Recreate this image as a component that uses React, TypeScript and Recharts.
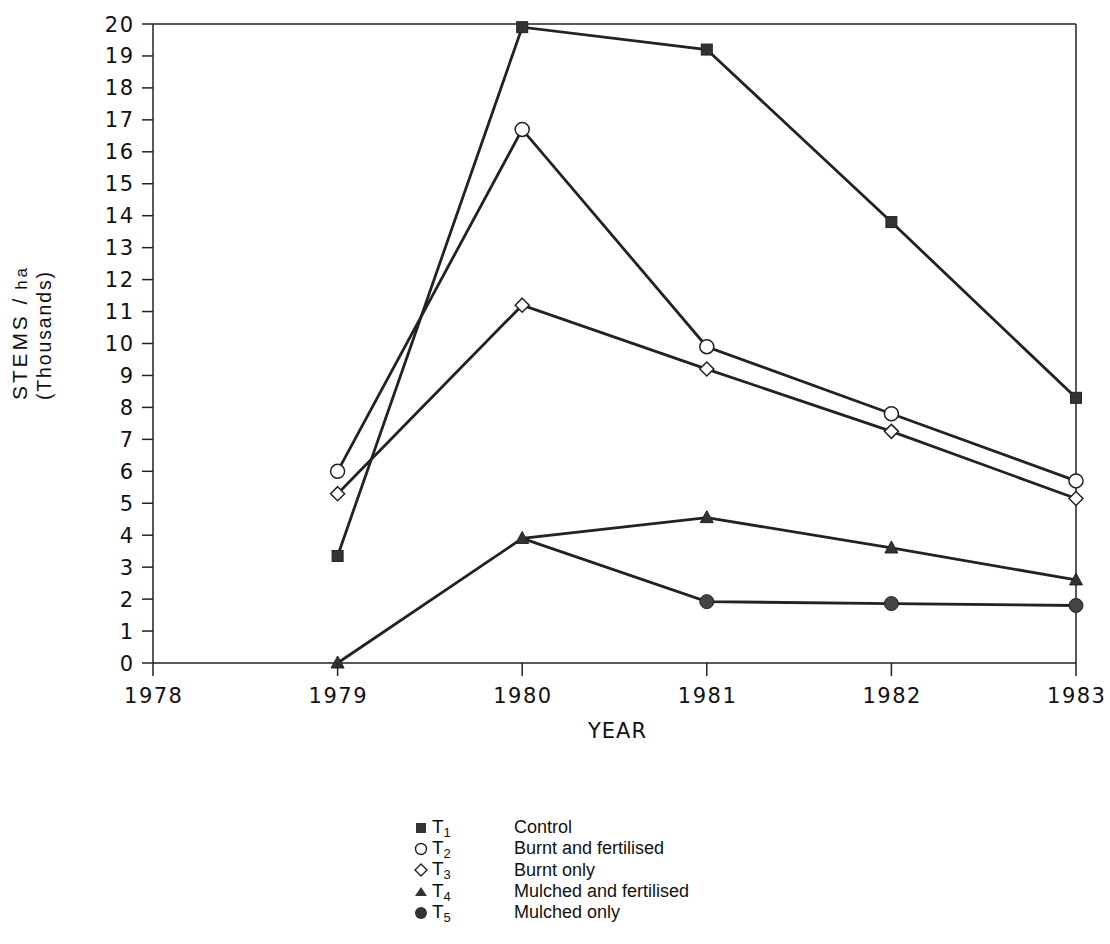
import React from "react";
import { LineChart, Line, XAxis, YAxis, ReferenceLine, Label } from "recharts";

const years = [1979, 1980, 1981, 1982, 1983];
const t1Control = [3.35, 19.9, 19.2, 13.8, 8.3];
const t2BurntFertilised = [6.0, 16.7, 9.9, 7.8, 5.7];
const t3BurntOnly = [5.3, 11.2, 9.2, 7.25, 5.15];
const t4MulchedFertilised = [0, 3.9, 4.55, 3.6, 2.6];
const t5MulchedOnly = [null, 3.9, 1.92, 1.86, 1.8];
const xTicks = [1978, 1979, 1980, 1981, 1982, 1983];
const yTicks = [0, 1, 2, 3, 4, 5, 6, 7, 8, 9, 10, 11, 12, 13, 14, 15, 16, 17, 18, 19, 20];
const legendItems = [
  { key: "T1", sub: "1", label: "Control" },
  { key: "T2", sub: "2", label: "Burnt and fertilised" },
  { key: "T3", sub: "3", label: "Burnt only" },
  { key: "T4", sub: "4", label: "Mulched and fertilised" },
  { key: "T5", sub: "5", label: "Mulched only" },
];

const data = years.map((y, i) => ({
  year: y,
  T1: t1Control[i],
  T2: t2BurntFertilised[i],
  T3: t3BurntOnly[i],
  T4: t4MulchedFertilised[i],
  T5: t5MulchedOnly[i],
}));

const INK = "#222";
const FONT = "'Liberation Sans', Arial, Helvetica, sans-serif";
const WIDE = "'DejaVu Sans', 'Liberation Sans', sans-serif";

const Square = (p: any) =>
  p.cx == null || p.cy == null ? null : (
    <rect x={p.cx - 5.5} y={p.cy - 5.5} width={11} height={11} fill="#333" stroke={INK} strokeWidth={1} />
  );
const OpenCircle = (p: any) =>
  p.cx == null || p.cy == null ? null : (
    <circle cx={p.cx} cy={p.cy} r={7} fill="#fff" stroke={INK} strokeWidth={1.5} />
  );
const Diamond = (p: any) =>
  p.cx == null || p.cy == null ? null : (
    <path d={`M${p.cx},${p.cy - 7}L${p.cx + 7},${p.cy}L${p.cx},${p.cy + 7}L${p.cx - 7},${p.cy}Z`} fill="#fff" stroke={INK} strokeWidth={1.5} />
  );
const Triangle = (p: any) =>
  p.cx == null || p.cy == null ? null : (
    <path d={`M${p.cx},${p.cy - 7}L${p.cx + 6.5},${p.cy + 5}L${p.cx - 6.5},${p.cy + 5}Z`} fill="#333" stroke={INK} strokeWidth={1} />
  );
const FilledCircle = (p: any) =>
  p.cx == null || p.cy == null || p.index < 2 ? null : (
    <circle cx={p.cx} cy={p.cy} r={7} fill="#444" stroke={INK} strokeWidth={1} />
  );

const XTick = (p: any) => {
  const { x, y, payload } = p;
  return (
    <g>
      <line x1={x} y1={y} x2={x} y2={y + 13} stroke={INK} strokeWidth={1.5} />
      <text x={x + 0.75} y={y + 40} textAnchor="middle" fontSize={21} letterSpacing={1.5} fontFamily={WIDE} fill="#111">
        {payload.value}
      </text>
    </g>
  );
};

const YTick = (p: any) => {
  const { x, y, payload } = p;
  return (
    <text x={x + 1.5} y={y} dy={7.5} textAnchor="end" fontSize={21} letterSpacing={1.5} fontFamily={WIDE} fill="#111">
      {payload.value}
    </text>
  );
};

const YTitle = () => (
  <g fontFamily={FONT} fill="#111">
    <text x={0} y={0} transform="translate(27,400) rotate(-90)" textAnchor="start" fontSize={21} textLength={132} lengthAdjust="spacing">
      STEMS /<tspan fontSize={17} dx={6}>ha</tspan>
    </text>
    <text x={0} y={0} transform="translate(51,400) rotate(-90)" textAnchor="start" fontSize={19.5} textLength={128} lengthAdjust="spacing">
      (Thousands)
    </text>
  </g>
);

const LegendSymbol = ({ k }: { k: string }) => {
  const c = 9, cy = 11;
  if (k === "T1") return <rect x={c - 5} y={cy - 5} width={10} height={10} fill="#333" />;
  if (k === "T2") return <circle cx={c} cy={cy} r={5.5} fill="#fff" stroke={INK} strokeWidth={1.4} />;
  if (k === "T3") return <path d={`M${c},${cy - 6}L${c + 6},${cy}L${c},${cy + 6}L${c - 6},${cy}Z`} fill="#fff" stroke={INK} strokeWidth={1.4} />;
  if (k === "T4") return <path d={`M${c},${cy - 5}L${c + 6},${cy + 4}L${c - 6},${cy + 4}Z`} fill="#333" />;
  return <circle cx={c} cy={cy} r={6} fill="#333" />;
};

export default function App() {
  return (
    <div style={{ position: "absolute", left: 0, top: 0, width: 1110, height: 944, background: "#fff" }}>
      <LineChart width={1110} height={944} data={data} margin={{ top: 24, right: 34, bottom: 221, left: 0 }}>
        <XAxis
          dataKey="year"
          type="number"
          domain={[1978, 1983]}
          ticks={xTicks}
          tick={<XTick />}
          tickLine={false}
          tickSize={0}
          tickMargin={0}
          height={60}
          axisLine={{ stroke: INK, strokeWidth: 1.5 }}
        >
          <Label value="YEAR" position="bottom" offset={0} dx={3} fontSize={21} letterSpacing={1} fontFamily={WIDE} fill="#111" />
        </XAxis>
        <YAxis
          type="number"
          domain={[0, 20]}
          ticks={yTicks}
          width={153}
          tickSize={11}
          tickMargin={9}
          interval={0}
          tick={<YTick />}
          axisLine={{ stroke: INK, strokeWidth: 1.5 }}
          tickLine={{ stroke: INK, strokeWidth: 1.5 }}
        >
          <Label content={<YTitle />} />
        </YAxis>
        <ReferenceLine y={20} stroke={INK} strokeWidth={1.5} />
        <ReferenceLine x={1983} stroke={INK} strokeWidth={1.5} />
        <Line dataKey="T1" stroke={INK} strokeWidth={2.8} dot={<Square />} isAnimationActive={false} />
        <Line dataKey="T2" stroke={INK} strokeWidth={2.8} dot={<OpenCircle />} isAnimationActive={false} />
        <Line dataKey="T3" stroke={INK} strokeWidth={2.8} dot={<Diamond />} isAnimationActive={false} />
        <Line dataKey="T5" stroke={INK} strokeWidth={2.8} dot={<FilledCircle />} isAnimationActive={false} />
        <Line dataKey="T4" stroke={INK} strokeWidth={2.8} dot={<Triangle />} isAnimationActive={false} />
      </LineChart>
      <div style={{ position: "absolute", left: 412, top: 817, fontFamily: FONT, color: "#111" }}>
        {legendItems.map((it) => (
          <div key={it.key} style={{ display: "flex", alignItems: "center", height: 21.3, fontSize: 18 }}>
            <svg width={18} height={22} style={{ display: "block" }}>
              <LegendSymbol k={it.key} />
            </svg>
            <span style={{ width: 82, marginLeft: 2, whiteSpace: "nowrap", fontSize: 19 }}>
              T<sub style={{ fontSize: 13, verticalAlign: -4 }}>{it.sub}</sub>
            </span>
            <span style={{ whiteSpace: "nowrap" }}>{it.label}</span>
          </div>
        ))}
      </div>
    </div>
  );
}
